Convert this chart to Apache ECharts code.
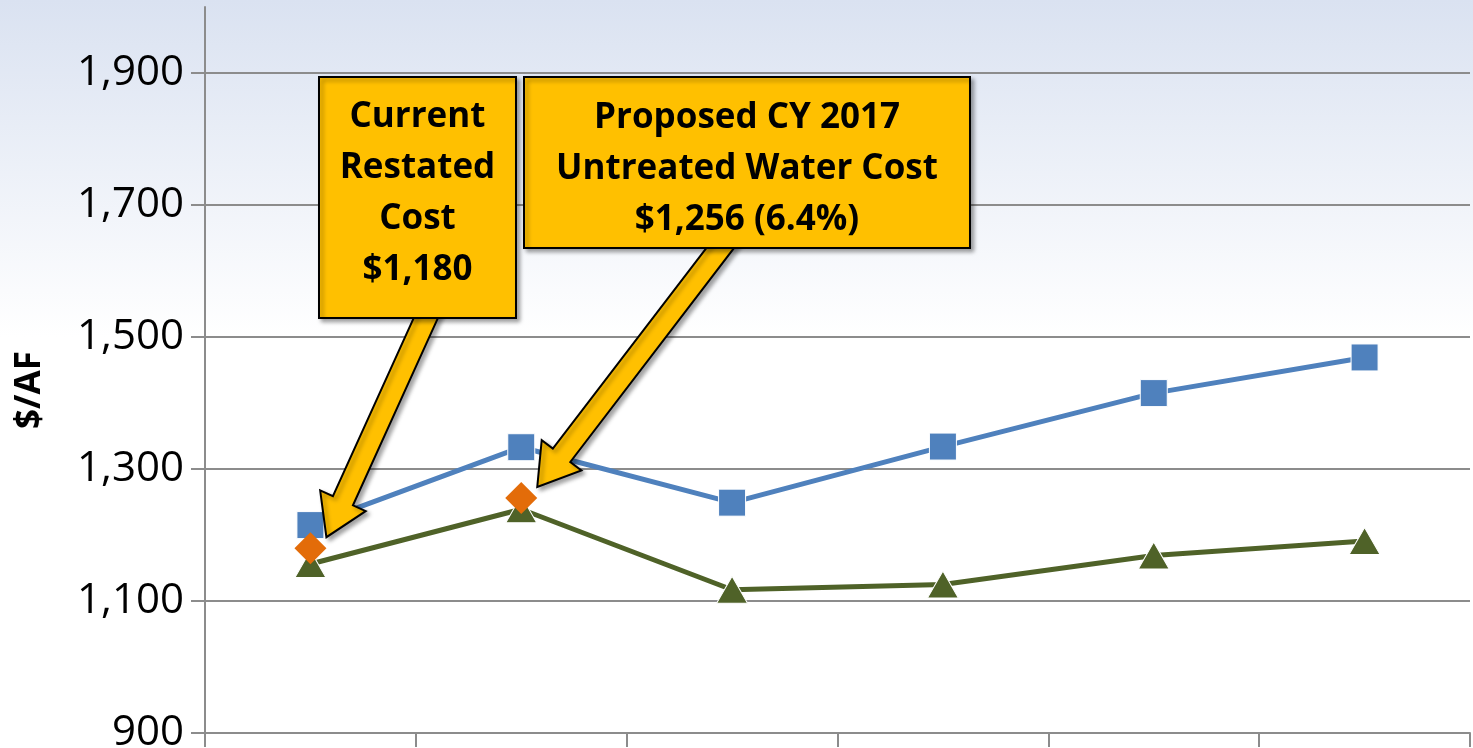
<!DOCTYPE html>
<html>
<head>
<meta charset="utf-8">
<script src="https://cdn.jsdelivr.net/npm/echarts@6/dist/echarts.min.js"></script>
<style>
  html, body { margin: 0; padding: 0; }
  #chart { width: 1473px; height: 748px; }
</style>
</head>
<body>
<div id="chart"></div>
<script>
// values
const categories = ['CY 2016', 'CY 2017', 'CY 2018', 'CY 2019', 'CY 2020', 'CY 2021'];
const totalCost = [1215, 1333, 1249, 1334, 1415, 1469];
const untreatedCost = [1156, 1239, 1117, 1125, 1169, 1191];
const highlighted = [1180, 1256, '-', '-', '-', '-'];
const yTicks = [900, 1100, 1300, 1500, 1700, 1900];
const calloutCurrent = ['Current', 'Restated', 'Cost', '$1,180'];
const calloutProposed = ['Proposed CY 2017', 'Untreated Water Cost', '$1,256 (6.4%)'];

const grey = '#8c8c8c';
const chart = echarts.init(document.getElementById('chart'));

chart.setOption({
  backgroundColor: new echarts.graphic.LinearGradient(0, 0, 0, 1, [
    { offset: 0, color: '#dae2f1' },
    { offset: 0.45, color: '#ffffff' },
    { offset: 1, color: '#ffffff' }
  ]),
  animation: false,
  grid: { left: 205, right: 3, top: 7, bottom: 15, outerBoundsMode: 'none' },
  xAxis: {
    type: 'category',
    data: categories,
    boundaryGap: true,
    axisLine: { lineStyle: { color: grey, width: 2 } },
    axisTick: { show: true, length: 14, lineStyle: { color: grey, width: 2 } },
    axisLabel: { show: false }
  },
  yAxis: {
    type: 'value',
    min: 900,
    max: 2000,
    name: '$/AF',
    nameLocation: 'middle',
    nameGap: 157,
    nameTextStyle: {
      fontFamily: 'Open Sans', fontWeight: 'bold', fontSize: 35, color: '#000',
      padding: [0, 40, 0, 0]
    },
    axisLine: { show: true, lineStyle: { color: grey, width: 2 } },
    axisTick: { show: true, length: 14, customValues: yTicks, lineStyle: { color: grey, width: 2 } },
    axisLabel: {
      customValues: yTicks,
      margin: 21,
      color: '#000',
      fontFamily: 'Open Sans',
      fontSize: 42,
      formatter: v => v.toLocaleString('en-US')
    },
    splitLine: { show: true, lineStyle: { color: grey, width: 2 } }
  },
  series: [
    {
      type: 'line',
      data: totalCost,
      symbol: 'rect',
      symbolSize: 27,
      lineStyle: { color: '#4f81bd', width: 5 },
      itemStyle: { color: '#4f81bd', borderColor: '#fff', borderWidth: 1 },
      z: 2
    },
    {
      type: 'line',
      data: untreatedCost,
      symbol: 'triangle',
      symbolSize: [31, 27],
      lineStyle: { color: '#4f6228', width: 5 },
      itemStyle: { color: '#4f6228', borderColor: '#fff', borderWidth: 1 },
      z: 3
    },
    {
      type: 'scatter',
      data: highlighted,
      symbol: 'diamond',
      symbolSize: 32,
      itemStyle: { color: '#e36c09', opacity: 1 },
      z: 4
    }
  ]
});

// yellow callout arrows, tip placed next to the highlighted markers
function arrowPoints(tail, tip) {
  const dx = tip[0] - tail[0], dy = tip[1] - tail[1];
  const len = Math.hypot(dx, dy);
  const ux = dx / len, uy = dy / len, nx = -uy, ny = ux;
  const sw = 11, hw = 25, hl = 40;
  const bx = tip[0] - ux * hl, by = tip[1] - uy * hl;
  return [
    [tail[0] + nx * sw, tail[1] + ny * sw], [bx + nx * sw, by + ny * sw],
    [bx + nx * hw, by + ny * hw], tip,
    [bx - nx * hw, by - ny * hw], [bx - nx * sw, by - ny * sw],
    [tail[0] - nx * sw, tail[1] - ny * sw]
  ];
}

function callout(lines, box, textY, tail, idx) {
  const p = chart.convertToPixel({ seriesIndex: 2 }, [idx, highlighted[idx]]);
  const tip = [p[0] + 16, p[1] - 11];
  const shadow = { shadowBlur: 4, shadowOffsetX: 3, shadowOffsetY: 3, shadowColor: 'rgba(0,0,0,0.35)' };
  return [
    {
      type: 'polygon', z: 100,
      shape: { points: arrowPoints(tail, tip) },
      style: Object.assign({ fill: '#ffc000', stroke: '#000', lineWidth: 2 }, shadow)
    },
    {
      type: 'rect', z: 101,
      shape: { x: box[0], y: box[1], width: box[2], height: box[3] },
      style: Object.assign({ fill: '#ffc000', stroke: '#000', lineWidth: 2 }, shadow)
    },
    {
      type: 'text', z: 102,
      x: box[0] + box[2] / 2, y: textY,
      style: {
        text: lines.join('\n'),
        font: 'bold 35px "Open Sans"',
        lineHeight: 51,
        fill: '#000',
        align: 'center',
        verticalAlign: 'middle'
      }
    }
  ];
}

chart.setOption({
  graphic: [].concat(
    callout(calloutCurrent, [319, 77, 197, 241], 194, [434, 300], 0),
    callout(calloutProposed, [524, 77, 446, 171], 169, [734, 230], 1)
  )
});
</script>
</body>
</html>
